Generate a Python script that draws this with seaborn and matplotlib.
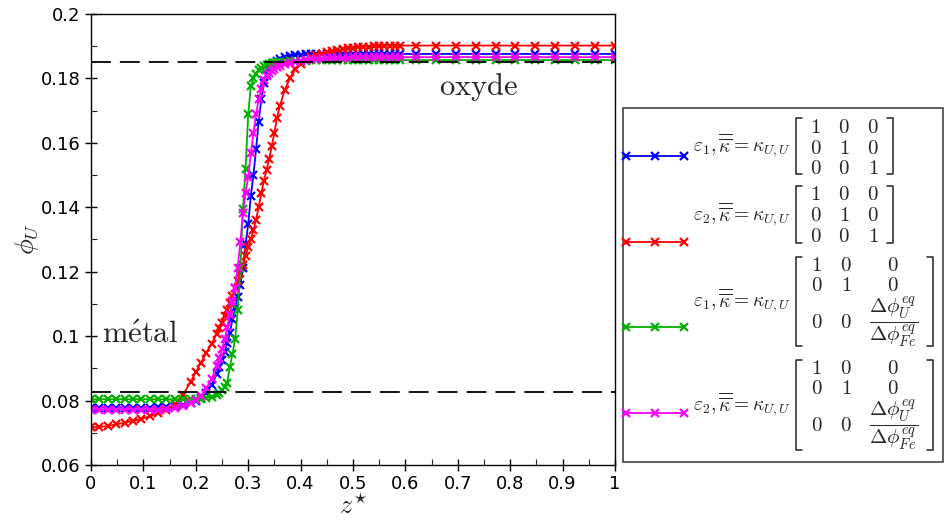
import matplotlib.pyplot as plt
import seaborn as sns
from matplotlib.lines import Line2D
from matplotlib.patches import Rectangle
from matplotlib.ticker import MultipleLocator, FuncFormatter

# abscisse adimensionnee (maillage raffine pres de l'interface)
x_star = [0.0, 0.016, 0.032, 0.048, 0.064, 0.08, 0.096, 0.112, 0.128, 0.144,
          0.16, 0.175, 0.19, 0.2, 0.21, 0.22, 0.23, 0.24,
          0.245, 0.25, 0.255, 0.26, 0.265, 0.27, 0.275, 0.28, 0.285, 0.29,
          0.295, 0.3, 0.305, 0.31, 0.315, 0.32, 0.325, 0.33, 0.335, 0.34,
          0.345, 0.35, 0.355, 0.36, 0.37, 0.38, 0.39, 0.4, 0.41, 0.42,
          0.43, 0.44, 0.45, 0.46, 0.47, 0.48, 0.49, 0.5, 0.51, 0.52,
          0.53, 0.54, 0.55, 0.56, 0.57, 0.58, 0.59,
          0.621, 0.659, 0.697, 0.734, 0.772, 0.81, 0.848, 0.886, 0.923, 0.961, 1.0]

# eps1, kappa isotrope
phi_eps1_iso = [0.0778, 0.0778, 0.0778, 0.0778, 0.0778, 0.0778, 0.0778, 0.0778, 0.0779, 0.0779,
                0.0781, 0.0785, 0.0792, 0.0799, 0.0809, 0.0825, 0.0848, 0.0882,
                0.0903, 0.0926, 0.0952, 0.0978, 0.1010, 0.1052, 0.1088, 0.1123, 0.1160, 0.1210,
                0.1285, 0.1347, 0.1435, 0.1500, 0.1580, 0.1665, 0.1735, 0.1785, 0.1810, 0.1828,
                0.1840, 0.1848, 0.1855, 0.1860, 0.1866, 0.1870, 0.1873, 0.1874, 0.1875, 0.1875,
                0.1876, 0.1876, 0.1876, 0.1876, 0.1876, 0.1876, 0.1876, 0.1876, 0.1876, 0.1876,
                0.1876, 0.1876, 0.1876, 0.1876, 0.1876, 0.1876, 0.1876,
                0.1876, 0.1876, 0.1876, 0.1876, 0.1876, 0.1876, 0.1876, 0.1876, 0.1876, 0.1876, 0.1876]

# eps2, kappa isotrope
phi_eps2_iso = [0.0717, 0.0718, 0.0721, 0.0726, 0.0731, 0.0737, 0.0743, 0.0751, 0.0760, 0.0772,
                0.0788, 0.0816, 0.0858, 0.0888, 0.0918, 0.0948, 0.0977, 0.1007,
                0.1024, 0.1042, 0.1061, 0.1082, 0.1104, 0.1126, 0.1149, 0.1172, 0.1196, 0.1222,
                0.1249, 0.1276, 0.1301, 0.1328, 0.1362, 0.1400, 0.1443, 0.1483, 0.1515, 0.1550,
                0.1590, 0.1632, 0.1678, 0.1713, 0.1765, 0.1802, 0.1828, 0.1845, 0.1857, 0.1866,
                0.1872, 0.1877, 0.1881, 0.1885, 0.1888, 0.1891, 0.1893, 0.1895, 0.1897, 0.1898,
                0.1899, 0.1900, 0.1901, 0.1901, 0.1902, 0.1902, 0.1902,
                0.1902, 0.1902, 0.1902, 0.1902, 0.1902, 0.1902, 0.1902, 0.1902, 0.1902, 0.1902, 0.1902]

# eps1, kappa anisotrope
phi_eps1_aniso = [0.0804, 0.0804, 0.0804, 0.0804, 0.0804, 0.0804, 0.0804, 0.0804, 0.0804, 0.0804,
                  0.0804, 0.0804, 0.0804, 0.0805, 0.0806, 0.0808, 0.0812, 0.0818,
                  0.0824, 0.0832, 0.0842, 0.0855, 0.0905, 0.0945, 0.0990, 0.1080, 0.1210, 0.1395,
                  0.1520, 0.1690, 0.1775, 0.1800, 0.1815, 0.1825, 0.1832, 0.1838, 0.1842, 0.1845,
                  0.1847, 0.1849, 0.1850, 0.1851, 0.1852, 0.1853, 0.1854, 0.1855, 0.1855, 0.1856,
                  0.1856, 0.1856, 0.1857, 0.1857, 0.1857, 0.1857, 0.1857, 0.1857, 0.1857, 0.1857,
                  0.1857, 0.1857, 0.1857, 0.1857, 0.1857, 0.1857, 0.1857,
                  0.1857, 0.1857, 0.1857, 0.1857, 0.1857, 0.1857, 0.1857, 0.1857, 0.1857, 0.1857, 0.1857]

# eps2, kappa anisotrope
phi_eps2_aniso = [0.0772, 0.0772, 0.0772, 0.0772, 0.0772, 0.0772, 0.0772, 0.0772, 0.0772, 0.0773,
                  0.0776, 0.0782, 0.0792, 0.0801, 0.0815, 0.0838, 0.0866, 0.0908,
                  0.0933, 0.0960, 0.0990, 0.1028, 0.1066, 0.1108, 0.1150, 0.1213, 0.1293, 0.1383,
                  0.1445, 0.1494, 0.1568, 0.1630, 0.1690, 0.1735, 0.1768, 0.1795, 0.1808, 0.1816,
                  0.1823, 0.1829, 0.1835, 0.1839, 0.1845, 0.1849, 0.1852, 0.1855, 0.1857, 0.1859,
                  0.1860, 0.1861, 0.1862, 0.1863, 0.1863, 0.1864, 0.1864, 0.1865, 0.1865, 0.1865,
                  0.1866, 0.1866, 0.1866, 0.1866, 0.1866, 0.1866, 0.1866,
                  0.1866, 0.1866, 0.1866, 0.1866, 0.1866, 0.1866, 0.1866, 0.1866, 0.1866, 0.1866, 0.1866]

# compositions d'equilibre (tirets)
phi_eq_oxyde = 0.1852
phi_eq_metal = 0.0828

series = [
    (phi_eps1_iso, '#0000ff', 1, False),
    (phi_eps2_iso, '#ff0000', 2, False),
    (phi_eps1_aniso, '#00b000', 1, True),
    (phi_eps2_aniso, '#ff00ff', 2, True),
]

sns.set_style('white')
plt.rcParams['mathtext.fontset'] = 'cm'
plt.rcParams['font.family'] = ['DejaVu Sans']

W, H = 945, 530
fig = plt.figure(figsize=(W / 100, H / 100), dpi=100)
ax = fig.add_axes([91 / W, 1 - 465 / H, 524 / W, 451 / H])

for phi, couleur, _, _ in series:
    sns.lineplot(x=x_star, y=phi, ax=ax, color=couleur, marker='x', markersize=6,
                 markeredgewidth=1.6, markeredgecolor=couleur, linewidth=1.3,
                 estimator=None, sort=False, legend=False)

for niveau in (phi_eq_oxyde, phi_eq_metal):
    ax.axhline(niveau, color='black', lw=1.3, ls=(0, (11, 5)), zorder=5)

ax.text(0.664, 0.1749, r'$\mathrm{oxyde}$', fontsize=22, va='baseline', ha='left')
ax.text(0.0204, 0.0979, r'$\mathrm{m\acute{e}tal}$', fontsize=22, va='baseline', ha='left')

ax.set_xlim(0, 1)
ax.set_ylim(0.06, 0.2)
ax.xaxis.set_major_locator(MultipleLocator(0.1))
ax.xaxis.set_minor_locator(MultipleLocator(0.05))
ax.yaxis.set_major_locator(MultipleLocator(0.02))
ax.yaxis.set_minor_locator(MultipleLocator(0.01))
fmt = FuncFormatter(lambda v, p: '{:g}'.format(round(v, 4)))
ax.xaxis.set_major_formatter(fmt)
ax.yaxis.set_major_formatter(fmt)
ax.tick_params(which='major', direction='inout', length=8, width=1, labelsize=13,
               top=False, right=False, bottom=True, left=True, colors='black')
ax.tick_params(which='minor', direction='in', length=4, width=0.8,
               top=False, right=False, bottom=True, left=True)
for sp in ax.spines.values():
    sp.set_color('black')
    sp.set_linewidth(1.0)

ax.set_xlabel(r'$z^{\star}$', fontsize=19)
ax.set_ylabel(r'$\phi_U$', fontsize=19)
ax.xaxis.set_label_coords(0.5, -0.065)
ax.yaxis.set_label_coords(-0.095, 0.5)

# legende construite a la main (les matrices ne passent pas dans une legende classique)
def fx(p):
    return p / W

def fy(p):
    return 1 - p / H

fig.add_artist(Rectangle((fx(622.7), fy(462.3)), (942.7 - 622.7) / W, (462.3 - 107.7) / H,
                         transform=fig.transFigure, fill=False, ec='#444444', lw=1.2))

handle_y = [156, 241.7, 327.3, 413.3]
bracket_top = [118.3, 186, 256.7, 360]
bracket_bot = [174.3, 242.7, 345.7, 450]
frac = r'$\dfrac{\Delta\phi_U^{eq}}{\Delta\phi_{Fe}^{eq}}$'

for i, (phi, couleur, eps, aniso) in enumerate(series):
    hy = fy(handle_y[i])
    fig.add_artist(Line2D([fx(626), fx(655), fx(684)], [hy, hy, hy], transform=fig.transFigure,
                          color=couleur, marker='x', ms=6, mew=1.6, lw=1.3))
    top, bot = bracket_top[i], bracket_bot[i]
    mid = (top + bot) / 2
    fig.text(fx(692.7), fy(mid), r'$\varepsilon_%d, \overline{\overline{\kappa}} = \kappa_{U,U}$' % eps,
             fontsize=14, ha='left', va='center')
    if aniso:
        cols = [816.7, 846, 893.3]
        rows = [top + 8.3, top + 28.3, top + 65]
        right = 933.3
        cells = [['1', '0', '0'], ['0', '1', '0'], ['0', '0', frac]]
    else:
        cols = [815.7, 844.3, 873.3]
        rows = [top + 8.4, top + 29.4, top + 50]
        right = 892.7
        cells = [['1', '0', '0'], ['0', '1', '0'], ['0', '0', '1']]
    for r, ligne in enumerate(cells):
        for c, val in enumerate(ligne):
            s = val if val.startswith('$') else '$' + val + '$'
            fig.text(fx(cols[c]), fy(rows[r]), s, fontsize=15, ha='center', va='center')
    left = 795.7
    fig.add_artist(Line2D([fx(left + 6), fx(left), fx(left), fx(left + 6)],
                          [fy(top), fy(top), fy(bot), fy(bot)],
                          transform=fig.transFigure, color='#222222', lw=1.1))
    fig.add_artist(Line2D([fx(right - 6), fx(right), fx(right), fx(right - 6)],
                          [fy(top), fy(top), fy(bot), fy(bot)],
                          transform=fig.transFigure, color='#222222', lw=1.1))

fig.savefig('out.png', dpi=100)
